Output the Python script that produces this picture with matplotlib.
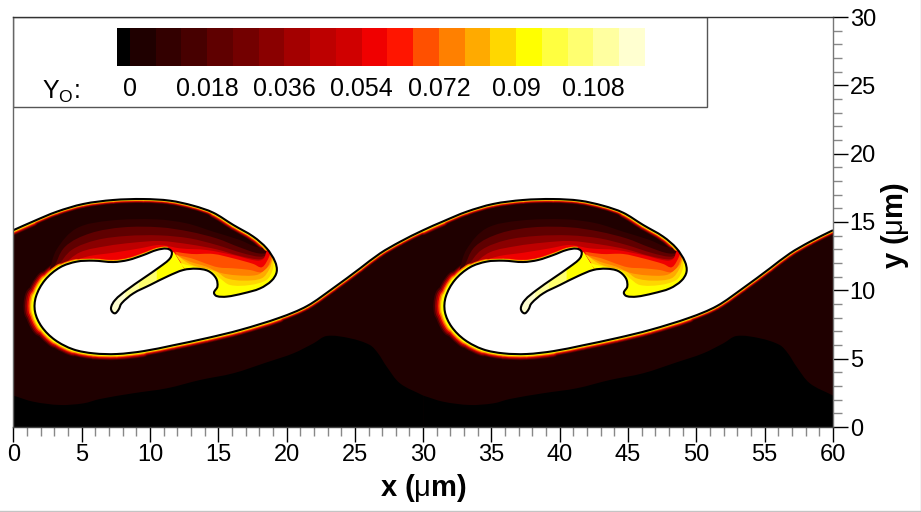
import numpy as np
import matplotlib
matplotlib.use("Agg")
import matplotlib.pyplot as plt
from matplotlib.colors import ListedColormap
from matplotlib.lines import Line2D
from matplotlib.patches import PathPatch, Rectangle
from matplotlib.path import Path
from matplotlib.ticker import MultipleLocator

plt.rcParams["font.family"] = ["Liberation Sans", "DejaVu Sans"]
plt.rcParams["mathtext.fontset"] = "custom"
plt.rcParams["mathtext.rm"] = "Liberation Sans"
plt.rcParams["mathtext.it"] = "Liberation Sans:italic"
plt.rcParams["mathtext.bf"] = "Liberation Sans:bold"

PERIOD = 30

# Interface between fuel (white) and the oxidizer side, one period, in um
iface_x = [0, 1.47, 3.17, 5.13, 7.32, 9.52, 11.47, 13.18, 14.64, 16.11, 17.57, 18.55, 19.16,
           19.28, 18.91, 18.06, 16.84, 15.62, 14.89, 14.69, 14.94, 14.84, 14.28, 13.42, 12.45,
           11.35, 10.01, 8.79, 7.93, 7.69, 7.40, 7.15, 7.45, 8.30, 9.52, 10.74, 11.47, 11.59,
           11.23, 10.49, 9.52, 8.42, 7.32, 5.86, 4.64, 3.42, 2.32, 1.66, 1.59, 2.08, 3.05, 4.39,
           5.86, 7.57, 9.52, 11.71, 14.15, 16.6, 19.5, 21.5, 23.4, 25.37, 26.84, 28.3, 30]
iface_y = [14.4, 15.05, 15.75, 16.32, 16.61, 16.68, 16.56, 16.19, 15.68, 14.78, 13.93, 13.07, 12.10,
           11.36, 10.71, 10.14, 9.78, 9.54, 9.58, 9.83, 10.27, 10.88, 11.41, 11.58, 11.49,
           11.05, 10.39, 9.78, 9.05, 8.56, 8.32, 8.68, 9.29, 10.02, 10.88, 11.73, 12.34, 12.83,
           13.05, 12.95, 12.58, 12.22, 12.07, 12.17, 12.10, 11.68, 10.75, 9.54, 8.44, 7.34, 6.37, 5.68,
           5.39, 5.34, 5.55, 5.98, 6.5, 7.1, 8.0, 8.85, 10.15, 11.6, 12.7, 13.55, 14.4]
# width of the glow beside each interface point, in pixels (0 = none)
iface_glow = [5, 5, 4, 4, 4, 4, 4, 4, 5, 5, 5, 5, 0,
              0, 0, 0, 0, 0, 0, 0, 0, 0, 0, 0, 0,
              0, 0, 0, 0, 0, 0, 0, 0, 0, 0, 0, 0, 0,
              4, 4, 4, 4, 4, 4, 5, 7, 9, 11, 11, 10, 8, 7,
              6, 6, 6, 5, 5, 5, 5, 4, 4, 4, 4, 4, 5]

# Edge of the zero-level (black) zone at the bottom
zero_x = [0, 1.47, 3.42, 5.13, 6.35, 8.79, 11.23, 13.67, 16.1, 18.55, 20.5, 21.97, 22.94, 24.65,
          26.1, 26.7, 27.33, 28.3, 30]
zero_y = [2.3, 1.85, 1.61, 1.73, 2.05, 2.47, 2.83, 3.44, 3.93, 4.73, 5.39, 6.12, 6.66, 6.49,
          6.0, 5.39, 4.42, 3.2, 2.3]

# Contour bands in the roll-up: upper edge of each band, low level first
band_colors = ["#330000", "#5f0000", "#8a0000", "#bd0000", "#f00000",
               "#ff5000", "#ff8000", "#ffaa00", "#ffd700", "#ffff00"]
band_x = [
    [2.6, 3.18, 4.64, 7.08, 10.49, 12.69, 14.64, 16.59, 17.9, 19.2],
    [2.9, 3.79, 5.62, 8.05, 10.74, 12.93, 14.88, 16.59, 18.0, 19.3],
    [3.2, 4.27, 6.1, 8.3, 10.74, 12.93, 14.88, 16.83, 18.05, 18.6, 19.5],
    [3.5, 4.88, 6.83, 8.79, 10.74, 12.93, 14.88, 16.59, 17.93, 18.4, 19.3],
    [3.9, 5.37, 7.32, 9.27, 10.74, 12.2, 14.15, 16.1, 17.81, 18.3, 18.55, 18.7],
    [11.83, 13.05, 14.64, 16.1, 17.57, 18.1, 18.35, 18.7, 18.9],
    [11.96, 13.05, 14.03, 15.01, 16.1, 17.32, 18.18, 18.6, 18.9, 19.0],
    [11.91, 12.93, 14.15, 15.13, 16.35, 17.81, 18.47, 18.85, 19.0],
    [11.83, 12.81, 13.91, 14.88, 15.61, 16.83, 18.18, 18.74, 19.0, 19.2],
    [11.59, 12.08, 13.42, 14.4, 15.13, 15.86, 17.32, 18.54, 18.98, 19.1, 19.3],
]
band_y = [
    [11.3, 13.0, 14.54, 15.10, 15.19, 14.9, 14.29, 13.68, 13.15, 13.2],
    [11.5, 13.19, 14.17, 14.61, 14.61, 14.29, 13.8, 13.14, 12.7, 12.8],
    [11.7, 12.95, 13.68, 13.98, 14.02, 13.8, 13.32, 12.71, 12.46, 12.6, 13.2],
    [11.75, 12.78, 13.24, 13.49, 13.61, 13.36, 13.0, 12.51, 12.27, 12.4, 13.3],
    [11.85, 12.46, 12.75, 13.07, 13.32, 13.07, 12.95, 12.58, 12.17, 12.3, 12.9, 13.2],
    [12.83, 12.66, 12.66, 12.34, 11.93, 11.68, 11.8, 12.4, 13.0],
    [12.58, 12.34, 11.98, 11.68, 11.61, 11.49, 11.32, 11.7, 12.4, 13.0],
    [12.58, 12.1, 11.73, 11.29, 11.1, 11.12, 11.54, 12.0, 12.8],
    [12.71, 11.98, 11.61, 11.36, 10.88, 10.71, 10.88, 11.54, 12.3, 12.9],
    [12.75, 12.1, 11.68, 11.49, 10.88, 10.39, 10.39, 10.76, 11.49, 12.3, 12.7],
]
# lower edge of the bands runs inside the fuel, where it is clipped away
long_bottom = [(20.5, 14), (20.5, 9), (15, 9), (10, 9.5), (4, 9.5)]
short_bottom = [(20.5, 14), (20.5, 9), (15, 9), (13, 11)]

# Thin tail of the fuel finger, getting paler to the tip
tail_colors = ["#ffff00", "#ffff70", "#ffffa0", "#ffffd0"]
tail_x = [[11.75, 12.5, 12.3, 7, 6.6, 11], [10.5, 10.5, 7, 6.6], [9.2, 9.2, 7, 6.6], [8.2, 8.2, 7, 6.6]]
tail_y = [[12.8, 11.6, 10.8, 7.8, 9, 12.5], [11.6, 10.4, 7.8, 9], [10.8, 9.9, 7.8, 9], [10, 9.2, 7.8, 9]]

# Glow bands along the interface, outermost first, as a share of the glow width
dark_frac = [1.0, 0.85, 0.7]
dark_colors = ["#470000", "#8a0000", "#d00000"]
hot_frac = [0.55, 0.42, 0.3]
hot_colors = ["#ff5000", "#ffaa00", "#ffff00"]

# Colour bar
cbar_edges = [-0.003, 0, 0.006, 0.012, 0.018, 0.024, 0.03, 0.036, 0.042, 0.048, 0.054, 0.06,
              0.066, 0.072, 0.078, 0.084, 0.09, 0.096, 0.102, 0.108, 0.114, 0.12]
cbar_colors = ["#000000", "#1f0000", "#330000", "#470000", "#5f0000", "#730000", "#8a0000",
               "#a30000", "#bd0000", "#d00000", "#f00000", "#ff1500", "#ff5000", "#ff8000",
               "#ffaa00", "#ffd700", "#ffff00", "#ffff40", "#ffff70", "#ffffa0", "#ffffd0"]
cbar_ticks = [0, 0.018, 0.036, 0.054, 0.072, 0.09, 0.108]
cbar_labels = ["0", "0.018", "0.036", "0.054", "0.072", "0.09", "0.108"]


def smooth(x, y):
    # bezier curve through the read points, tangent along the neighbouring chord
    p = np.column_stack([x, y]).astype(float)
    t = np.gradient(p, axis=0)
    t = t / np.linalg.norm(t, axis=1, keepdims=True)
    verts = [p[0]]
    for i in range(len(p) - 1):
        d = np.linalg.norm(p[i + 1] - p[i]) / 3
        verts += [p[i] + t[i] * d, p[i + 1] - t[i + 1] * d, p[i + 1]]
    codes = [Path.MOVETO] + [Path.CURVE4] * (len(verts) - 1)
    return verts, codes


def closed(verts, codes, extra):
    verts = list(verts) + list(extra) + [verts[0]]
    codes = list(codes) + [Path.LINETO] * len(extra) + [Path.CLOSEPOLY]
    return Path(verts, codes)


def glow(verts, widths, fracs, colors, zorder):
    # one stroke per interface segment so the width can change along the curve
    for frac, col in zip(fracs, colors):
        for i in range(len(widths) - 1):
            w = min(widths[i], widths[i + 1])
            if w == 0:
                continue
            seg = Path(verts[3 * i:3 * i + 4], [Path.MOVETO] + [Path.CURVE4] * 3)
            p = PathPatch(seg, facecolor="none", edgecolor=col, lw=2 * w * frac * 0.72,
                          capstyle="round", zorder=zorder)
            ax.add_patch(p)
            p.set_clip_path(fluid)


fig = plt.figure(figsize=(9.21, 5.12), dpi=100)
ax = fig.add_axes([13.3 / 921, 85 / 512, 819.7 / 921, 410 / 512])

full_x = np.array(iface_x[:-1] + [v + PERIOD for v in iface_x])
full_y = np.array(iface_y[:-1] + iface_y)
full_glow = iface_glow[:-1] + iface_glow
full_v, full_c = smooth(full_x, full_y)
fluid = PathPatch(closed(full_v, full_c, [(60, 0), (0, 0)]), facecolor="#1f0000", edgecolor="none", zorder=1)
ax.add_patch(fluid)

glow(full_v, full_glow, dark_frac, dark_colors, 2.5)

for shift in (0, PERIOD):
    v, c = smooth(np.array(zero_x) + shift, zero_y)
    p = ax.add_patch(PathPatch(closed(v, c, [(shift + PERIOD, 0), (shift, 0)]),
                               facecolor="#000000", edgecolor="none", zorder=2))
    p.set_clip_path(fluid)

    for i, col in enumerate(band_colors):
        v, c = smooth(np.array(band_x[i]) + shift, band_y[i])
        bottom = long_bottom if i < 5 else short_bottom
        bottom = [(a + shift, b) for a, b in bottom]
        p = ax.add_patch(PathPatch(closed(v, c, bottom), facecolor=col, edgecolor="none", zorder=3))
        p.set_clip_path(fluid)

    for tx, ty, col in zip(tail_x, tail_y, tail_colors):
        p = ax.fill(np.array(tx) + shift, ty, color=col, lw=0, zorder=4)[0]
        p.set_clip_path(fluid)

glow(full_v, full_glow, hot_frac, hot_colors, 5)

ax.add_patch(PathPatch(Path(full_v, full_c), facecolor="none", edgecolor="black", lw=1.5, zorder=6))

# Legend box
ax.add_patch(Rectangle((0, 23.4), 50.8, 6.6, facecolor="white", edgecolor="#555555", lw=1, zorder=7))

ax.set_xlim(0, 60)
ax.set_ylim(0, 30)
ax.xaxis.set_major_locator(MultipleLocator(5))
ax.yaxis.set_major_locator(MultipleLocator(5))
ax.xaxis.set_minor_locator(MultipleLocator(1))
ax.yaxis.set_minor_locator(MultipleLocator(1))
ax.yaxis.tick_right()
ax.tick_params(which="major", length=11, width=1, color="black", labelsize=17, pad=1)
ax.tick_params(which="minor", length=6.5, width=1, color="#888888")
for name, col in [("top", "#333333"), ("bottom", "#444444"), ("left", "#666666"), ("right", "#777777")]:
    ax.spines[name].set_color(col)
    ax.spines[name].set_linewidth(1)
    ax.spines[name].set_zorder(8)

fig.text(423 / 921, 1 - 488 / 512, r"$\mathbf{x\ (}\mathrm{\mu}\mathbf{m)}$", fontsize=21,
         ha="center", va="center")
fig.text(895 / 921, 1 - 226 / 512, r"$\mathbf{y\ (}\mathrm{\mu}\mathbf{m)}$", fontsize=21,
         rotation=90, ha="center", va="center")

# Colour bar on top of the legend box
cax = fig.add_axes([117 / 921, 1 - 66 / 512, 528 / 921, 38 / 512])
cax.pcolormesh(cbar_edges, [0, 1], [np.arange(len(cbar_colors))],
               cmap=ListedColormap(cbar_colors), vmin=-0.5, vmax=len(cbar_colors) - 0.5)
cax.set_xticks(cbar_ticks)
cax.set_xticklabels(cbar_labels, fontsize=18)
cax.set_yticks([])
cax.tick_params(axis="x", length=0, pad=8)
for s in cax.spines.values():
    s.set_visible(False)

fig.text(42 / 921, 1 - 99 / 512, r"Y$_{\mathrm{O}}$:", fontsize=18, ha="left", va="baseline")

# Light border of the page at the bottom and right
fig.add_artist(Line2D([0, 1], [0.001, 0.001], color="#c4c4c4", lw=1))
fig.add_artist(Line2D([0.9995, 0.9995], [0, 1], color="#c4c4c4", lw=1))

fig.savefig("out.png", dpi=100)
